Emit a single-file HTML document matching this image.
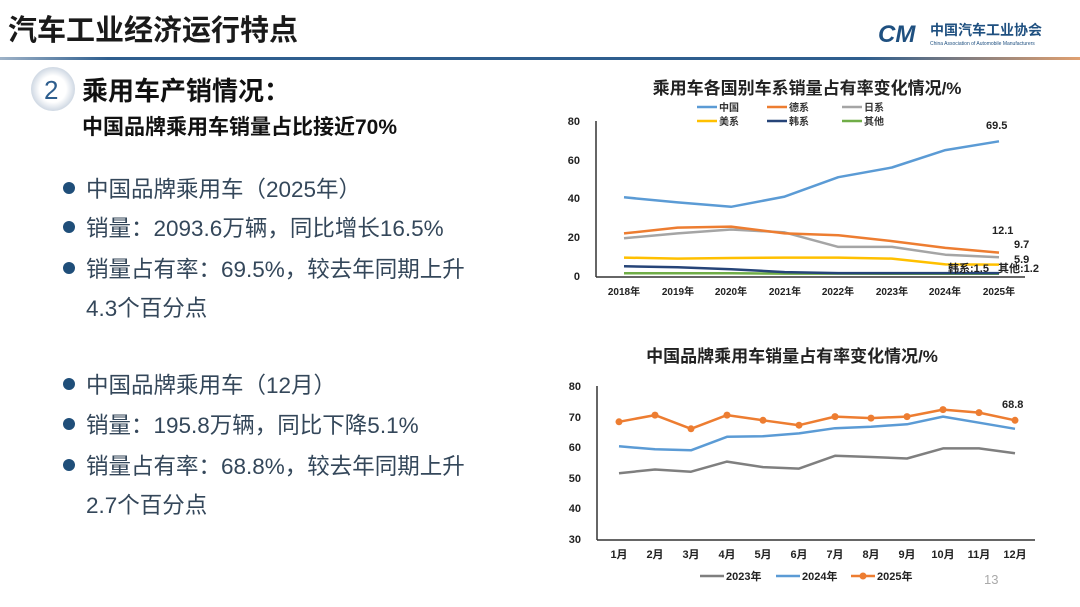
<!DOCTYPE html>
<html><head><meta charset="utf-8"><style>
html,body{margin:0;padding:0;background:#fff;}
body{width:1080px;height:607px;overflow:hidden;position:relative;font-family:"Liberation Sans","Noto Sans CJK SC",sans-serif;}
svg text{font-family:"Liberation Sans","Noto Sans CJK SC",sans-serif;}
.b{position:absolute;left:86px;font-size:22.5px;color:#34475a;white-space:nowrap;}
.d:before{content:"";position:absolute;left:-23px;top:10px;width:12px;height:12px;border-radius:50%;background:#1f4e79;}
</style></head><body>
<svg width="1080" height="607" style="position:absolute;left:0;top:0">
<defs><linearGradient id="g" x1="0" x2="1"><stop offset="0" stop-color="#9fb3c8"/><stop offset="0.1" stop-color="#2e5e8e"/><stop offset="0.8" stop-color="#2e5e8e"/><stop offset="1" stop-color="#e0a070"/></linearGradient>
<radialGradient id="c"><stop offset="0.6" stop-color="#fff"/><stop offset="1" stop-color="#cfd8e3"/></radialGradient></defs>
<text x="8" y="40" font-size="29" font-weight="bold" fill="#1a1a1a">汽车工业经济运行特点</text>
<text x="878" y="42" font-size="24" font-weight="bold" fill="#1f5080" font-style="italic">CM</text>
<text x="930" y="35" font-size="14" font-weight="bold" fill="#1f5080">中国汽车工业协会</text>
<text x="930" y="45" font-size="5" fill="#1f5080">China Association of Automobile Manufacturers</text>
<rect x="0" y="57" width="1080" height="3" fill="url(#g)"/>
<circle cx="53" cy="89" r="22" fill="url(#c)"/>
<text x="44" y="99" font-size="26" fill="#2e5e8e">2</text>
<text x="82" y="100" font-size="26" font-weight="bold" fill="#111">乘用车产销情况：</text>
<text x="82" y="134" font-size="21" font-weight="bold" fill="#111">中国品牌乘用车销量占比接近70%</text>

<text x="807" y="94" font-size="17" font-weight="bold" fill="#222" text-anchor="middle">乘用车各国别车系销量占有率变化情况/%</text>
<g font-size="10" font-weight="bold" fill="#333">
<line x1="697" y1="107" x2="717" y2="107" stroke="#5b9bd5" stroke-width="2.5"/><text x="719" y="111">中国</text>
<line x1="767" y1="107" x2="787" y2="107" stroke="#ed7d31" stroke-width="2.5"/><text x="789" y="111">德系</text>
<line x1="842" y1="107" x2="862" y2="107" stroke="#a5a5a5" stroke-width="2.5"/><text x="864" y="111">日系</text>
<line x1="697" y1="121" x2="717" y2="121" stroke="#ffc000" stroke-width="2.5"/><text x="719" y="125">美系</text>
<line x1="767" y1="121" x2="787" y2="121" stroke="#264478" stroke-width="2.5"/><text x="789" y="125">韩系</text>
<line x1="842" y1="121" x2="862" y2="121" stroke="#70ad47" stroke-width="2.5"/><text x="864" y="125">其他</text>
</g>
<g font-size="11" font-weight="bold" fill="#222" text-anchor="end">
<text x="580" y="125">80</text><text x="580" y="164">60</text><text x="580" y="202">40</text><text x="580" y="241">20</text><text x="580" y="280">0</text></g>
<line x1="596" y1="121" x2="596" y2="277" stroke="#333" stroke-width="1.5"/>
<line x1="596" y1="277" x2="1025" y2="277" stroke="#333" stroke-width="1.5"/>
<g font-size="10" font-weight="bold" fill="#222" text-anchor="middle">
<text x="624" y="295">2018年</text><text x="678" y="295">2019年</text><text x="731" y="295">2020年</text><text x="785" y="295">2021年</text><text x="838" y="295">2022年</text><text x="892" y="295">2023年</text><text x="945" y="295">2024年</text><text x="999" y="295">2025年</text></g>
<g fill="none" stroke-width="2.5" stroke-linejoin="round">
<polyline stroke="#70ad47" points="624,273.3 677.6,273.3 731.1,273.3 784.7,273.6 838.3,273.6 891.9,273.8 945.4,273.8 999,273.8"/>
<polyline stroke="#264478" points="624,266.3 677.6,267.3 731.1,269.2 784.7,272.1 838.3,273.1 891.9,273.1 945.4,273.1 999,273.1"/>
<polyline stroke="#ffc000" points="624,257.6 677.6,258.6 731.1,258 784.7,257.6 838.3,257.6 891.9,258.6 945.4,264.4 999,264.6"/>
<polyline stroke="#a5a5a5" points="624,238.2 677.6,233.4 731.1,229.5 784.7,232.4 838.3,246.9 891.9,246.9 945.4,254.7 999,257.2"/>
<polyline stroke="#ed7d31" points="624,233.4 677.6,227.6 731.1,226.6 784.7,233.4 838.3,235.3 891.9,241.1 945.4,247.9 999,252.6"/>
<polyline stroke="#5b9bd5" points="624,197.3 677.6,202.4 731.1,206.8 784.7,196.6 838.3,177.2 891.9,167.5 945.4,150.1 999,141.3"/>
</g>
<g font-size="11" font-weight="bold" fill="#222">
<text x="986" y="129">69.5</text><text x="992" y="234">12.1</text><text x="1014" y="248">9.7</text><text x="1014" y="263">5.9</text>
<text x="948" y="272">韩系:1.5</text><text x="998" y="272">其他:1.2</text></g>

<text x="792" y="362" font-size="17" font-weight="bold" fill="#222" text-anchor="middle">中国品牌乘用车销量占有率变化情况/%</text>
<g font-size="11" font-weight="bold" fill="#222" text-anchor="end">
<text x="581" y="390">80</text><text x="581" y="421">70</text><text x="581" y="451">60</text><text x="581" y="482">50</text><text x="581" y="512">40</text><text x="581" y="543">30</text></g>
<line x1="597" y1="386" x2="597" y2="540" stroke="#333" stroke-width="1.5"/>
<line x1="597" y1="540" x2="1035" y2="540" stroke="#333" stroke-width="1.5"/>
<g font-size="11" font-weight="bold" fill="#222" text-anchor="middle">
<text x="619" y="558">1月</text><text x="655" y="558">2月</text><text x="691" y="558">3月</text><text x="727" y="558">4月</text><text x="763" y="558">5月</text><text x="799" y="558">6月</text><text x="835" y="558">7月</text><text x="871" y="558">8月</text><text x="907" y="558">9月</text><text x="943" y="558">10月</text><text x="979" y="558">11月</text><text x="1015" y="558">12月</text></g>
<g fill="none" stroke-width="2.5" stroke-linejoin="round">
<polyline stroke="#7f7f7f" points="619,473.2 655,469.5 691,471.7 727,461.6 763,467.1 799,468.6 835,455.8 871,457 907,458.5 943,448.4 979,448.4 1015,453.3"/>
<polyline stroke="#5b9bd5" points="619,446.3 655,449.3 691,450.3 727,436.8 763,436.2 799,433.4 835,428.2 871,426.7 907,424.3 943,416.6 979,422.7 1015,428.8"/>
<polyline stroke="#ed7d31" points="619,421.8 655,415.1 691,428.8 727,415.1 763,420.3 799,425.2 835,416.6 871,418.1 907,416.6 943,409.6 979,412.6 1015,420.3"/>
</g>
<g fill="#ed7d31">
<circle cx="619" cy="421.8" r="3.5"/><circle cx="655" cy="415.1" r="3.5"/><circle cx="691" cy="428.8" r="3.5"/><circle cx="727" cy="415.1" r="3.5"/><circle cx="763" cy="420.3" r="3.5"/><circle cx="799" cy="425.2" r="3.5"/><circle cx="835" cy="416.6" r="3.5"/><circle cx="871" cy="418.1" r="3.5"/><circle cx="907" cy="416.6" r="3.5"/><circle cx="943" cy="409.6" r="3.5"/><circle cx="979" cy="412.6" r="3.5"/><circle cx="1015" cy="420.3" r="3.5"/></g>
<text x="1002" y="408" font-size="11" font-weight="bold" fill="#222">68.8</text>
<g font-size="11" font-weight="bold" fill="#222">
<line x1="700" y1="576" x2="724" y2="576" stroke="#7f7f7f" stroke-width="2.5"/><text x="726" y="580">2023年</text>
<line x1="776" y1="576" x2="800" y2="576" stroke="#5b9bd5" stroke-width="2.5"/><text x="802" y="580">2024年</text>
<line x1="851" y1="576" x2="875" y2="576" stroke="#ed7d31" stroke-width="2.5"/><circle cx="863" cy="576" r="3.5" fill="#ed7d31"/><text x="877" y="580">2025年</text></g>
<text x="984" y="584" font-size="13" fill="#aaa">13</text>
</svg>
<div class="b d" style="top:172px">中国品牌乘用车（2025年）</div>
<div class="b d" style="top:211px">销量：2093.6万辆，同比增长16.5%</div>
<div class="b d" style="top:252px">销量占有率：69.5%，较去年同期上升</div>
<div class="b" style="top:291px">4.3个百分点</div>
<div class="b d" style="top:368px">中国品牌乘用车（12月）</div>
<div class="b d" style="top:408px">销量：195.8万辆，同比下降5.1%</div>
<div class="b d" style="top:449px">销量占有率：68.8%，较去年同期上升</div>
<div class="b" style="top:488px">2.7个百分点</div>
</body></html>
